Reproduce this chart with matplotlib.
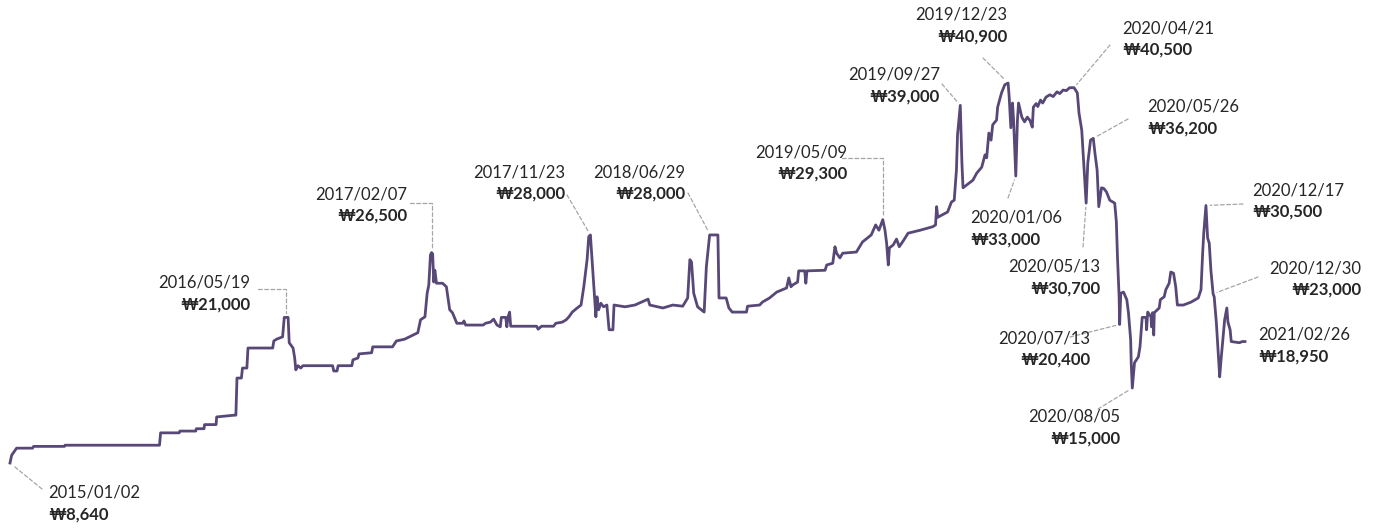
import matplotlib
matplotlib.use("Agg")
import matplotlib.pyplot as plt
import pandas as pd

# ---------------- data ----------------
dates = [
    "2015-01-02", "2015-01-05", "2015-01-14", "2015-02-12", "2015-02-14", "2015-04-11", "2015-04-12",
    "2015-10-01", "2015-10-03", "2015-11-06", "2015-11-07", "2015-12-06", "2015-12-07", "2015-12-21",
    "2015-12-22", "2016-01-12", "2016-01-13", "2016-02-14", "2016-02-17", "2016-02-19", "2016-02-27",
    "2016-02-29", "2016-03-08", "2016-03-10", "2016-04-24", "2016-04-26", "2016-05-01", "2016-05-12",
    "2016-05-15", "2016-05-22", "2016-05-24", "2016-05-31", "2016-06-03", "2016-06-05", "2016-06-09",
    "2016-06-14", "2016-06-18", "2016-08-11", "2016-08-13", "2016-08-19", "2016-08-21", "2016-09-15",
    "2016-09-17", "2016-09-26", "2016-09-28", "2016-10-21", "2016-10-23", "2016-11-28", "2016-12-05",
    "2016-12-20", "2017-01-04", "2017-01-13", "2017-01-18", "2017-01-26", "2017-01-30", "2017-02-02",
    "2017-02-05", "2017-02-07", "2017-02-09", "2017-02-11", "2017-02-13", "2017-02-16", "2017-02-27",
    "2017-03-06", "2017-03-12", "2017-03-17", "2017-03-25", "2017-04-05", "2017-04-07", "2017-04-10",
    "2017-05-12", "2017-05-16", "2017-05-25", "2017-05-31", "2017-06-06", "2017-06-12", "2017-06-14",
    "2017-06-22", "2017-06-24", "2017-06-26", "2017-06-29", "2017-07-01", "2017-08-17", "2017-08-20",
    "2017-08-26", "2017-09-17", "2017-09-21", "2017-10-03", "2017-10-10", "2017-10-15", "2017-10-21",
    "2017-10-30", "2017-11-06", "2017-11-11", "2017-11-17", "2017-11-20", "2017-11-23", "2017-11-26",
    "2017-11-29", "2017-12-03", "2017-12-05", "2017-12-08", "2017-12-12", "2017-12-17", "2017-12-23",
    "2017-12-27", "2018-01-03", "2018-01-05", "2018-01-25", "2018-02-12", "2018-03-08", "2018-03-11",
    "2018-04-04", "2018-04-22", "2018-05-10", "2018-05-19", "2018-05-23", "2018-05-26", "2018-05-30",
    "2018-06-06", "2018-06-18", "2018-06-22", "2018-06-28", "2018-07-13", "2018-07-15", "2018-07-28",
    "2018-08-02", "2018-08-08", "2018-09-03", "2018-09-05", "2018-09-27", "2018-10-02", "2018-10-15",
    "2018-10-28", "2018-11-15", "2018-11-19", "2018-11-23", "2018-11-26", "2018-12-05", "2018-12-07",
    "2018-12-18", "2018-12-20", "2018-12-22", "2019-01-24", "2019-01-27", "2019-02-07", "2019-02-11",
    "2019-02-14", "2019-02-20", "2019-02-25", "2019-03-22", "2019-04-02", "2019-04-18", "2019-04-26",
    "2019-05-02", "2019-05-09", "2019-05-13", "2019-05-16", "2019-05-19", "2019-05-21", "2019-05-28",
    "2019-06-03", "2019-06-08", "2019-06-16", "2019-06-24", "2019-07-16", "2019-08-08", "2019-08-13",
    "2019-08-15", "2019-08-17", "2019-09-04", "2019-09-11", "2019-09-16", "2019-09-20", "2019-09-22",
    "2019-09-27", "2019-09-30", "2019-10-02", "2019-10-09", "2019-10-20", "2019-10-27", "2019-11-05",
    "2019-11-11", "2019-11-14", "2019-11-18", "2019-11-22", "2019-11-25", "2019-12-02", "2019-12-04",
    "2019-12-11", "2019-12-17", "2019-12-23", "2019-12-25", "2019-12-28", "2019-12-31", "2020-01-02",
    "2020-01-06", "2020-01-09", "2020-01-11", "2020-01-17", "2020-01-22", "2020-01-27", "2020-02-01",
    "2020-02-05", "2020-02-07", "2020-02-12", "2020-02-15", "2020-02-20", "2020-02-24", "2020-03-01",
    "2020-03-08", "2020-03-14", "2020-03-21", "2020-03-26", "2020-04-01", "2020-04-07", "2020-04-13",
    "2020-04-21",
    "2020-04-27", "2020-04-30", "2020-05-05", "2020-05-09", "2020-05-13", "2020-05-16", "2020-05-21",
    "2020-05-26", "2020-05-29", "2020-06-02", "2020-06-05", "2020-06-10", "2020-06-14", "2020-06-19",
    "2020-06-25", "2020-07-04", "2020-07-07", "2020-07-09", "2020-07-12", "2020-07-13", "2020-07-15",
    "2020-07-20", "2020-07-26", "2020-07-29", "2020-08-02", "2020-08-03", "2020-08-05", "2020-08-09",
    "2020-08-16", "2020-08-19", "2020-08-23", "2020-08-30", "2020-08-31", "2020-09-02", "2020-09-08",
    "2020-09-09", "2020-09-11", "2020-09-13", "2020-09-14", "2020-09-23", "2020-09-25", "2020-10-02",
    "2020-10-05", "2020-10-11", "2020-10-14", "2020-10-19", "2020-10-23", "2020-10-26", "2020-11-06",
    "2020-11-20", "2020-12-03", "2020-12-08", "2020-12-11", "2020-12-13", "2020-12-17", "2020-12-20",
    "2020-12-23", "2020-12-26", "2020-12-30", "2021-01-01", "2021-01-05", "2021-01-11", "2021-01-13",
    "2021-01-20", "2021-01-24", "2021-01-26", "2021-01-30", "2021-02-01", "2021-02-16", "2021-02-21",
    "2021-02-26",
]
prices = [
    8640, 9300, 9900, 9900, 10050, 10050, 10150,
    10150, 11200, 11200, 11350, 11350, 11550, 11550,
    11900, 11900, 12550, 12700, 12700, 15850, 15850,
    16700, 16700, 18400, 18400, 19000, 19150, 19350,
    21000, 21000, 18850, 18400, 17550, 16550, 16900,
    16700, 16900, 16900, 16450, 16450, 16900, 16900,
    17400, 17550, 17900, 18000, 18500, 18500, 19000,
    19150, 19500, 19700, 20800, 21050, 23050, 23750,
    26300, 26500, 26400, 24000, 25000, 23900, 23900,
    23600, 21650, 21400, 20500, 20500, 20700, 20350,
    20350, 20500, 20600, 20850, 20350, 20200, 21000,
    21000, 20200, 21000, 21450, 20250, 20250, 20000,
    20250, 20250, 20500, 20600, 20800, 21050, 21450,
    21800, 22050, 23600, 25900, 27850, 28000, 25900,
    23900, 21050, 22750, 21650, 22200, 21900, 22050,
    19950, 19950, 22050, 21900, 22050, 22550, 22050,
    21800, 22050, 21950, 22650, 25900, 25700, 23050,
    21900, 21450, 25300, 28000, 28000, 22650, 22650,
    21800, 21450, 21450, 21950, 22050, 22300, 22650,
    23150, 23500, 24350, 23600, 23750, 24000, 24950,
    24950, 23900, 24950, 25000, 25450, 25600, 27000,
    26450, 26050, 26450, 26550, 27400, 28000, 28850,
    28400, 29300, 28400, 27300, 25450, 26900, 27150,
    27650, 27000, 27550, 28150, 28400, 28700, 28850,
    30400, 29500, 29950, 30800, 30950, 33500, 36500,
    39000, 34100, 32000, 32250, 32650, 33250, 33750,
    34800, 34550, 36650, 36050, 37350, 37750, 38850,
    40050, 40750, 40900, 39700, 37100, 39200, 37750,
    33000, 37750, 39200, 38000, 37600, 38000, 37700,
    37150, 38850, 39150, 38900, 39450, 39200, 39700,
    39900, 39750, 40150, 40000, 40300, 40250, 40500,
    40500,
    40050, 38350, 36900, 33750, 30700, 34100, 36050,
    36200, 34950, 33500, 30400, 32000, 31950, 31650,
    30950, 30700, 29100, 26150, 22750, 20400, 23050,
    23150, 22500, 21400, 19100, 17150, 15000, 17150,
    17650, 18500, 21000, 21000, 19950, 21450, 21050,
    20200, 21400, 19500, 21400, 21800, 22500, 22750,
    23350, 23900, 24850, 24750, 23600, 22050, 22050,
    22300, 22650, 23350, 26450, 28150, 30500, 27750,
    27300, 25000, 23000, 22750, 20500, 15950, 17150,
    20800, 21800, 20600, 19950, 18950, 18850, 18950,
    18950,
]

# annotated points
ann_dates = ["2015-01-02", "2016-05-19", "2017-02-07", "2017-11-23", "2018-06-29", "2019-05-09",
             "2019-09-27", "2019-12-23", "2020-04-21", "2020-05-26", "2020-01-06", "2020-05-13",
             "2020-07-13", "2020-08-05", "2020-12-17", "2020-12-30", "2021-02-26"]
ann_values = [8640, 21000, 26500, 28000, 28000, 29300,
              39000, 40900, 40500, 36200, 33000, 30700,
              20400, 15000, 30500, 23000, 18950]

# ---------------- layout (image pixels, origin top-left) ----------------
W, H = 1376, 529
# (text x, date-line y, ha, leader start x, leader start y, leader style)
ann_layout = [
    (48, 493, "left", 42, 489, "straight"),
    (250, 283, "right", 258, 289, "elbow"),
    (407, 194, "right", 410, 203, "elbow"),
    (565, 172, "right", 567, 195, "straight"),
    (685, 172, "right", 688, 193, "straight"),
    (847, 152, "right", 842, 158, "elbow"),
    (940, 75, "right", 942, 84, "straight"),
    (1007, 15, "right", 983, 58, "straight"),
    (1122, 28, "left", 1110, 45, "straight"),
    (1147, 107, "left", 1128, 119, "straight"),
    (970, 218, "left", 1008, 198, "straight"),
    (1100, 267, "right", 1083, 247, "straight"),
    (1090, 338, "right", 1070, 337, "straight"),
    (1120, 417, "right", 1098, 409, "straight"),
    (1252, 190, "left", 1243, 204, "straight"),
    (1361, 268, "right", 1258, 277, "straight"),
    (1258, 335, "left", None, None, None),
]

LINE_COLOR = "#584878"
TEXT_COLOR = "#262626"
LEADER_COLOR = "#a6a6a6"
FONT = ["Lato", "DejaVu Sans"]

fig = plt.figure(figsize=(W / 100, H / 100), dpi=100)
fig.patch.set_facecolor("white")
ax = fig.add_axes([0, 0, 1, 1])
ax.axis("off")

s = pd.Series(prices, index=pd.to_datetime(dates))
ax.plot(s.index, s.values, color=LINE_COLOR, lw=2.0, solid_joinstyle="round", zorder=3)

d0 = pd.Timestamp("2015-01-02")
ax.set_xlim(d0 - pd.Timedelta(days=18.2), d0 + pd.Timedelta(days=2485.4))
ax.set_ylim(3037, 47944)


def fx(x):
    return x / W


def fy(y):
    return 1 - y / H


for d, v, (tx, ty, ha, lx, ly, style) in zip(ann_dates, ann_values, ann_layout):
    fig.text(fx(tx), fy(ty), d.replace("-", "/"), ha=ha, va="center",
             fontsize=12, color=TEXT_COLOR, family=FONT)
    fig.text(fx(tx), fy(ty + 22), "₩{:,}".format(v), ha=ha, va="center",
             fontsize=12, fontweight="bold", color=TEXT_COLOR, family=FONT)
    if style is None:
        continue
    conn = "angle,angleA=0,angleB=90,rad=0" if style == "elbow" else "arc3"
    ax.annotate("", xy=(pd.Timestamp(d), v), xycoords="data",
                xytext=(fx(lx), fy(ly)), textcoords="figure fraction",
                arrowprops=dict(arrowstyle="-", color=LEADER_COLOR, lw=0.9,
                                linestyle=(0, (3, 2)), shrinkA=0, shrinkB=3,
                                connectionstyle=conn),
                zorder=2)

fig.savefig("out.png", dpi=100, facecolor="white")
